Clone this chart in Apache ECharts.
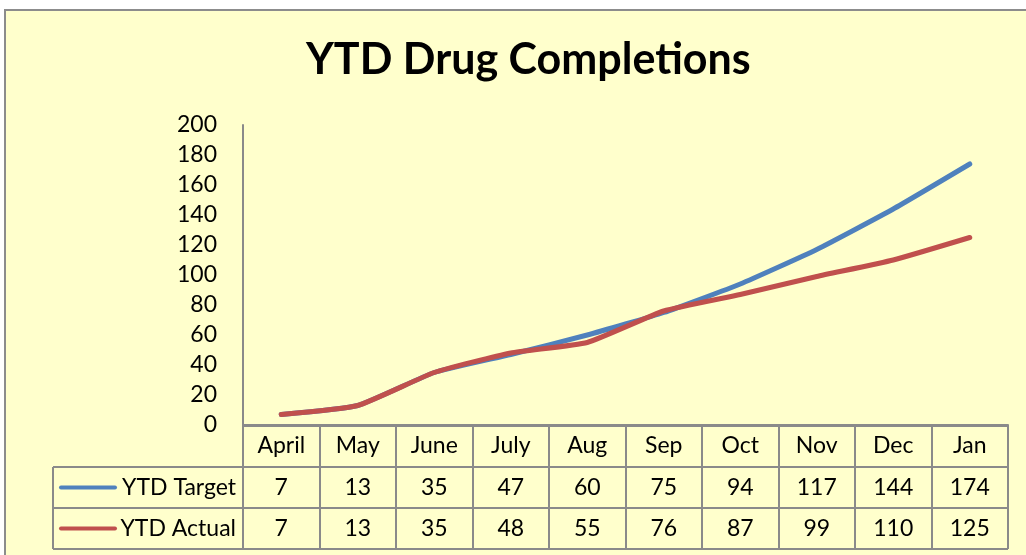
<!DOCTYPE html>
<html>
<head>
<meta charset="utf-8">
<title>YTD Drug Completions</title>
<script src="https://cdn.jsdelivr.net/npm/echarts@6/dist/echarts.min.js"></script>
<style>
    html, body { margin: 0; padding: 0; background: #ffffff; }
    #chart { width: 1026px; height: 555px; }
</style>
</head>
<body>
<div id="chart"></div>
<script>
// data
var months = ['April', 'May', 'June', 'July', 'Aug', 'Sep', 'Oct', 'Nov', 'Dec', 'Jan'];
var ytdTarget = [7, 13, 35, 47, 60, 75, 94, 117, 144, 174];
var ytdActual = [7, 13, 35, 48, 55, 76, 87, 99, 110, 125];
var seriesNames = ['YTD Target', 'YTD Actual'];
var seriesColors = ['#4f81bd', '#c0504d'];
var yMin = 0, yMax = 200, yStep = 20;

var font = 'Lato, "Open Sans", sans-serif';
var borderColor = '#8a8a8a';
var cellFont = 23;

var myChart = echarts.init(document.getElementById('chart'));

var option = {
    animation: false,
    textStyle: { fontFamily: font },
    title: {
        text: 'YTD Drug Completions',
        left: 301,
        top: 34,
        textStyle: { fontSize: 43, fontWeight: 'bold', color: '#000', fontFamily: font }
    },
    grid: { left: 243, right: 18, top: 125, bottom: 130, containLabel: false },
    xAxis: {
        type: 'category',
        data: months,
        boundaryGap: true,
        axisLine: { show: true, lineStyle: { color: borderColor, width: 2 } },
        // ticks at category edges make the column borders of the table
        axisTick: { show: true, interval: 0, length: 124, lineStyle: { color: borderColor, width: 2 } },
        axisLabel: { interval: 0, margin: 21, fontSize: cellFont, color: '#000', verticalAlign: 'middle', fontFamily: font },
        splitLine: { show: false }
    },
    yAxis: {
        type: 'value',
        min: yMin,
        max: yMax,
        interval: yStep,
        axisLine: { show: true, lineStyle: { color: borderColor, width: 2 } },
        axisTick: { show: false },
        axisLabel: { margin: 26, fontSize: cellFont, color: '#000', fontFamily: font },
        splitLine: { show: false }
    },
    series: [{
        name: seriesNames[0],
        type: 'line',
        data: ytdTarget,
        smooth: 0.15,
        showSymbol: false,
        lineStyle: { color: seriesColors[0], width: 5, cap: 'round', join: 'round' },
        itemStyle: { color: seriesColors[0] }
    }, {
        name: seriesNames[1],
        type: 'line',
        data: ytdActual,
        smooth: 0.15,
        showSymbol: false,
        lineStyle: { color: seriesColors[1], width: 5, cap: 'round', join: 'round' },
        itemStyle: { color: seriesColors[1] }
    }]
};
myChart.setOption(option);

// 数据表 (data table under the axis)
function buildTable() {
    var c0 = myChart.convertToPixel({ xAxisIndex: 0 }, 0);
    var c1 = myChart.convertToPixel({ xAxisIndex: 0 }, 1);
    var bw = c1 - c0;
    var tableLeft = 53;
    var plotLeft = c0 - bw / 2;
    var plotRight = c0 + bw * (months.length - 0.5);
    var rowTop = [467, 508];
    var rowH = 41;
    var rows = [ytdTarget, ytdActual];
    var g = [];

    // chart area background and frame
    g.push({
        type: 'rect', z: -10, silent: true,
        shape: { x: 5, y: 10, width: 1040, height: 560 },
        style: { fill: '#ffffcc', stroke: '#8c8c8c', lineWidth: 2 }
    });

    // horizontal lines
    g.push({ type: 'line', z: 5, shape: { x1: plotLeft, y1: 426, x2: plotRight, y2: 426 },
        style: { stroke: borderColor, lineWidth: 2 } });
    for (var r = 0; r <= rows.length; r++) {
        var yy = rowTop[0] + r * rowH;
        g.push({ type: 'line', z: 5, shape: { x1: tableLeft, y1: yy, x2: plotRight, y2: yy },
            style: { stroke: borderColor, lineWidth: 2 } });
    }
    // left border of legend column
    g.push({ type: 'line', z: 5, shape: { x1: tableLeft, y1: rowTop[0], x2: tableLeft, y2: rowTop[0] + rowH * 2 },
        style: { stroke: borderColor, lineWidth: 2 } });

    for (var k = 0; k < rows.length; k++) {
        var cy = rowTop[k] + rowH / 2;
        // legend key
        g.push({ type: 'line', z: 6, shape: { x1: 61, y1: cy, x2: 115, y2: cy },
            style: { stroke: seriesColors[k], lineWidth: 4, lineCap: 'round' } });
        g.push({ type: 'text', z: 6, x: 236, y: cy,
            style: { text: seriesNames[k], fill: '#000', font: cellFont + 'px ' + font, align: 'right', verticalAlign: 'middle' } });
        for (var i = 0; i < months.length; i++) {
            var cx = myChart.convertToPixel({ xAxisIndex: 0 }, i);
            g.push({ type: 'text', z: 6, x: cx, y: cy,
                style: { text: String(rows[k][i]), fill: '#000', font: cellFont + 'px ' + font, align: 'center', verticalAlign: 'middle' } });
        }
    }
    myChart.setOption({ graphic: g });
}
buildTable();
</script>
</body>
</html>
